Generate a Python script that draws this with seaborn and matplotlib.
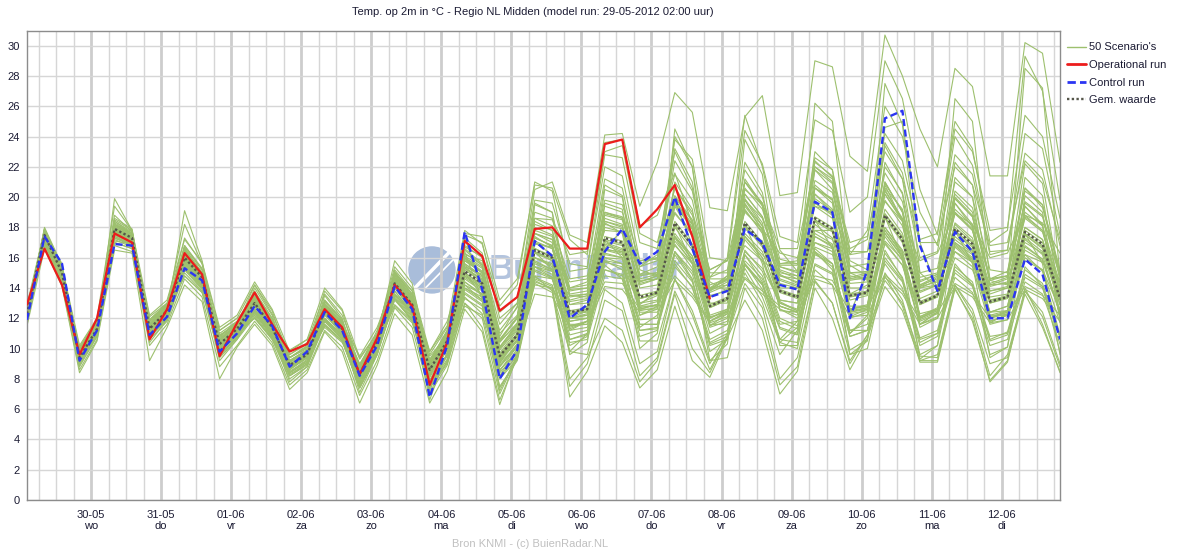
import matplotlib
matplotlib.use("Agg")
import numpy as np
import pandas as pd
import matplotlib.pyplot as plt
import seaborn as sns
from matplotlib.lines import Line2D
from matplotlib.patches import Ellipse

# tijdstappen van 6 uur vanaf 29-05-2012 02:00 (uren na start)
uren = list(range(0, 360, 6))

dagen = ["30-05", "31-05", "01-06", "02-06", "03-06", "04-06", "05-06",
         "06-06", "07-06", "08-06", "09-06", "10-06", "11-06", "12-06"]
weekdagen = ["wo", "do", "vr", "za", "zo", "ma", "di",
             "wo", "do", "vr", "za", "zo", "ma", "di"]
dag_uren = [22 + 24 * k for k in range(len(dagen))]   # 00:00 uur van elke dag

operational = [12.9, 16.6, 14.2, 9.6, 12.0, 17.6, 17.0, 10.6, 12.6, 16.3,
               14.9, 9.5, 11.7, 13.7, 11.6, 9.8, 10.3, 12.6, 11.4, 8.3,
               10.7, 14.2, 12.8, 7.6, 10.4, 17.1, 16.1, 12.5, 13.4, 17.9,
               18.0, 16.6, 16.6, 23.5, 23.8, 18.0, 19.2, 20.8, 17.4, 13.3]

control = [11.9, 17.4, 15.6, 9.2, 11.2, 16.9, 16.8, 10.9, 12.1, 15.3,
           14.5, 9.8, 11.0, 12.8, 11.5, 8.8, 9.8, 12.4, 11.2, 8.2,
           10.2, 14.1, 12.6, 6.8, 10.2, 17.7, 13.9, 8.0, 9.9, 17.1,
           16.1, 12.0, 12.9, 16.4, 17.9, 15.6, 16.4, 20.0, 16.6, 13.4,
           13.8, 17.9, 17.0, 14.2, 13.9, 19.7, 19.0, 12.0, 15.2, 25.2,
           25.7, 16.8, 13.8, 17.7, 16.4, 12.0, 12.0, 15.9, 14.9, 10.6]

gemiddelde = [12.3, 17.5, 15.0, 9.4, 11.3, 17.9, 17.3, 11.3, 12.5, 16.0,
              14.7, 10.3, 11.3, 13.0, 11.4, 8.9, 9.6, 12.5, 11.3, 8.3,
              10.5, 14.3, 12.9, 8.6, 10.5, 15.1, 14.3, 9.5, 10.9, 16.5,
              16.0, 12.4, 12.6, 17.3, 17.0, 13.4, 13.7, 18.3, 16.8, 12.8,
              13.3, 18.3, 16.9, 13.8, 13.4, 18.6, 17.9, 13.5, 13.7, 18.8,
              17.2, 13.0, 13.5, 17.9, 16.9, 13.1, 13.4, 17.7, 16.9, 13.3]

scenarios = [
    [12.6,17.8,15.2,9.8, 11.6,18.4,17.6,11.7, 12.8,16.8,15.2,10.8, 11.8,13.8,12.0,9.4, 10.2,13.2,11.9,8.9, 11.2,15.0,13.6,9.5, 10.8,17.5,17.0,12.0, 13.0,20.5,21.0,17.5, 17.0,24.1,24.2,19.4, 22.3,26.9,25.6,19.3, 19.1,25.3,26.7,20.1, 20.3,29.0,28.6,22.7, 21.7,30.7,28.0,24.5, 22.0,28.5,27.3,21.4, 21.4,30.2,29.5,22.3],
    [12.5,17.9,15.4,9.9, 11.8,18.8,17.7,11.9, 12.9,18.2,15.6,11.2, 12.0,14.2,12.3,9.6, 10.4,13.6,12.2,9.3, 11.0,15.4,14.0,9.8, 11.5,17.8,16.9,12.8, 14.2,21.0,20.4,15.1, 15.3,22.0,21.4,15.8, 15.9,23.8,22.5,16.0, 15.8,24.4,22.2,17.4, 17.0,25.1,24.4,19.0, 20.0,29.0,26.5,20.5, 17.5,25.0,23.2,17.0, 17.8,29.3,27.0,19.8],
    [12.4,17.6,15.1,9.6, 11.5,18.2,17.5,11.6, 12.7,16.6,15.0,10.6, 11.5,13.4,11.8,9.2, 9.9,12.9,11.7,8.6, 10.8,14.9,13.4,9.2, 11.2,16.8,16.0,11.0, 12.2,19.0,18.6,14.0, 14.4,21.2,20.6,15.2, 14.8,24.0,22.0,14.7, 16.0,25.4,22.0,16.5, 15.1,22.4,21.3,16.2, 17.8,26.0,24.0,19.0, 16.8,24.0,22.1,16.4, 16.5,24.2,23.2,17.5],
    [12.2,18.0,15.5,9.5, 11.2,19.9,17.8,11.0, 12.4,19.1,15.8,10.0, 11.0,14.0,12.2,8.6, 9.4,13.5,12.0,8.0, 10.3,15.2,13.8,8.4, 10.2,16.5,15.5,9.0, 11.0,19.5,19.0,12.0, 12.5,20.5,20.0,13.0, 13.5,24.5,22.0,13.0, 13.0,23.8,21.5,14.0, 14.0,26.2,25.0,15.0, 14.5,27.5,24.8,15.0, 14.0,26.5,25.0,14.5, 14.2,28.5,27.2,14.8],
    [12.8,17.2,14.6,9.9, 11.9,17.7,17.2,11.9, 12.9,16.5,14.9,10.8, 11.7,13.5,11.7,9.4, 10.1,12.9,11.7,8.7, 10.9,14.6,13.1,9.0, 11.0,16.7,16.1,12.4, 13.4,18.6,18.5,16.2, 16.4,23.6,23.8,18.1, 18.8,21.6,18.2,14.0, 14.0,20.5,19.5,15.5, 15.5,21.8,20.5,15.8, 15.2,22.0,20.3,15.0, 15.3,21.0,20.0,15.2, 15.0,20.4,19.5,15.2],
    [12.0,17.7,15.2,9.5, 11.4,18.1,17.4,11.5, 12.6,16.3,14.9,10.5, 11.5,13.3,11.6,9.1, 9.8,12.8,11.6,8.5, 10.7,14.7,13.3,8.9, 10.8,15.8,15.0,10.1, 11.5,17.6,17.2,13.5, 13.6,18.8,18.5,14.6, 14.9,20.1,18.5,14.0, 14.5,19.8,18.6,15.1, 14.6,20.6,19.9,15.0, 15.0,21.0,19.0,14.4, 14.9,19.9,18.7,14.5, 14.8,19.6,18.7,14.7],
    [12.4,17.3,14.9,9.2, 11.1,17.6,17.1,11.2, 12.3,15.7,14.5,10.2, 11.2,12.9,11.3,8.8, 9.7,12.7,11.5,8.6, 10.9,14.8,13.3,9.2, 11.1,16.0,15.3,10.6, 12.1,18.0,17.5,13.9, 14.0,18.9,18.6,14.9, 15.0,19.6,17.9,13.9, 14.6,20.2,18.7,15.4, 15.1,21.1,20.3,15.4, 15.6,21.6,19.7,14.7, 15.0,20.2,19.0,14.6, 15.1,20.6,19.3,15.0],
    [12.3,17.6,15.1,9.4, 11.3,17.9,17.4,11.4, 12.5,16.2,14.8,10.4, 11.4,13.1,11.5,9.0, 9.7,12.6,11.4,8.4, 10.6,14.5,13.1,8.8, 10.7,15.5,14.7,9.9, 11.3,17.1,16.6,12.9, 13.0,18.0,17.7,14.0, 14.2,19.0,17.5,13.4, 13.9,19.1,17.7,14.5, 14.1,19.6,18.8,14.3, 14.4,19.8,18.1,13.7, 14.2,18.9,17.8,13.8, 14.1,18.7,17.8,14.1],
    [12.1,17.4,14.9,9.3, 11.2,17.8,17.2,11.2, 12.4,15.9,14.6,10.2, 11.2,12.9,11.3,8.8, 9.5,12.4,11.2,8.2, 10.4,14.2,12.8,8.5, 10.4,15.0,14.2,9.4, 10.8,16.4,15.9,12.3, 12.5,17.2,16.9,13.3, 13.6,18.2,16.7,12.7, 13.2,18.2,16.8,13.7, 13.3,18.5,17.8,13.4, 13.6,18.7,17.1,12.9, 13.4,17.8,16.8,13.0, 13.3,17.6,16.8,13.2],
    [12.0,17.9,15.3,9.0, 11.0,18.5,17.8,10.8, 12.2,16.8,15.3,9.7, 11.0,13.6,11.9,8.4, 9.2,13.1,11.8,7.7, 10.1,15.0,13.5,7.9, 10.0,16.0,15.1,8.5, 10.2,17.6,17.0,11.3, 11.8,18.6,18.2,12.2, 12.8,19.8,18.0,11.5, 12.3,19.8,18.1,12.5, 12.4,20.2,19.2,12.1, 12.6,20.5,18.5,11.6, 12.4,19.6,18.2,11.7, 12.3,19.4,18.2,11.9],
    [12.6,17.1,14.7,9.8, 11.6,17.3,16.8,11.8, 12.8,15.4,14.2,10.9, 11.6,12.5,11.1,9.4, 10.0,12.0,10.9,8.9, 10.9,13.6,12.4,9.3, 11.0,14.2,13.6,10.5, 11.6,15.4,15.1,13.5, 13.4,16.0,15.9,14.5, 14.6,16.8,15.6,14.0, 14.2,16.8,15.8,14.9, 14.3,17.0,16.6,14.6, 14.6,17.1,15.9,14.1, 14.4,16.4,15.7,14.2, 14.3,16.2,15.7,14.4],
    [12.2,17.3,14.8,9.2, 11.1,17.6,17.0,11.0, 12.2,15.6,14.3,9.9, 11.0,12.6,11.0,8.5, 9.2,12.0,10.9,7.9, 10.1,13.8,12.4,8.1, 9.9,14.4,13.6,8.8, 10.1,15.6,15.1,11.5, 11.8,16.3,16.0,12.5, 12.7,17.1,15.7,11.8, 12.3,17.2,15.8,12.8, 12.4,17.4,16.8,12.5, 12.7,17.6,16.1,12.0, 12.5,16.8,15.8,12.1, 12.4,16.5,15.8,12.3],
    [12.0,17.0,14.5,8.9, 10.8,17.2,16.7,10.6, 11.8,15.0,13.8,9.4, 10.6,12.1,10.6,8.0, 8.8,11.6,10.5,7.4, 9.6,13.2,11.9,7.5, 9.3,13.6,12.8,8.0, 9.3,14.6,14.1,10.4, 10.6,14.8,14.6,11.2, 11.3,15.4,14.1,10.3, 10.8,15.5,14.2,11.3, 10.9,15.6,15.0,10.8, 11.2,15.8,14.4,10.4, 11.0,15.0,14.1,10.5, 10.9,14.7,14.0,10.7],
    [11.8,16.8,14.2,8.6, 10.6,16.8,16.4,10.2, 11.6,14.6,13.4,8.8, 10.2,11.8,10.4,7.6, 8.6,11.2,10.1,6.9, 9.2,12.7,11.4,7.0, 8.9,13.0,12.0,7.0, 9.5,14.5,13.9,7.5, 9.0,13.2,12.5,8.2, 9.4,13.8,11.4,8.6, 10.8,14.3,12.7,8.0, 9.4,14.4,13.0,9.2, 10.9,14.5,13.0,9.5, 9.4,14.2,12.3,8.2, 9.6,13.8,12.1,8.8],
    [11.5,16.6,14.1,8.4, 10.5,16.5,16.3,9.2, 11.4,14.2,13.1,8.0, 10.1,11.6,10.2,7.3, 8.4,11.1,9.8,6.4, 8.9,12.3,10.9,6.4, 8.5,12.6,11.1,6.3, 9.6,14.8,13.8,6.8, 8.5,11.5,10.4,7.4, 8.6,12.8,9.2,8.1, 10.7,13.2,11.2,7.0, 8.5,14.0,12.0,8.6, 10.7,14.1,12.5,9.2, 9.2,14.0,11.8,7.9, 9.2,13.6,11.4,8.5],
    [12.9,17.0,14.3,10.0, 11.9,17.5,17.0,11.9, 13.0,15.8,14.5,11.0, 11.8,13.3,11.6,9.6, 10.3,12.9,11.6,9.0, 10.8,14.4,13.0,8.9, 10.6,17.6,17.4,13.2, 14.6,20.8,20.6,17.2, 16.2,23.0,23.4,17.6, 17.0,21.5,19.8,14.4, 13.8,19.2,17.6,13.2, 13.0,18.2,17.3,12.6, 12.9,18.0,16.4,12.1, 12.7,17.0,16.2,12.4, 12.8,17.3,16.4,12.9],
    [12.4,17.5,15.0,9.5, 11.4,18.0,17.3,11.4, 12.5,16.1,14.7,10.4, 11.3,13.1,11.5,8.9, 9.6,12.6,11.4,8.3, 10.5,14.4,13.0,8.6, 10.5,15.3,14.5,9.4, 10.9,16.6,16.0,12.0, 12.2,16.8,16.4,12.6, 12.6,16.9,15.3,11.4, 11.8,16.5,15.1,12.0, 11.5,16.4,15.6,11.2, 11.2,16.0,14.5,10.6, 11.0,15.2,14.2,10.8, 11.0,14.9,14.1,10.9],
    [12.1,17.2,14.7,9.2, 11.0,17.5,17.0,11.0, 12.1,15.5,14.2,9.8, 10.9,12.5,10.9,8.4, 9.1,11.9,10.8,7.8, 9.9,13.6,12.2,7.9, 9.6,13.9,13.1,8.6, 9.8,14.8,14.6,11.2, 11.8,16.5,16.4,12.9, 13.8,19.5,18.2,13.8, 14.8,21.0,19.6,15.6, 15.6,22.6,21.8,16.4, 16.4,23.6,21.6,16.0, 16.4,22.8,21.5,16.2, 16.5,22.9,21.8,16.8],
    [12.5,17.4,14.8,9.6, 11.5,17.7,17.0,11.5, 12.6,15.8,14.4,10.6, 11.5,12.8,11.2,9.1, 9.9,12.3,11.1,8.6, 10.8,14.1,12.7,8.9, 10.9,14.7,13.9,10.1, 11.6,16.0,15.6,13.2, 13.5,16.5,16.2,14.4, 14.8,17.4,15.9,13.9, 14.6,17.4,16.2,15.0, 14.8,17.8,17.2,14.7, 15.0,18.0,16.5,14.2, 14.8,17.2,16.3,14.3, 14.7,17.0,16.3,14.5],
    [12.2,17.1,14.6,9.1, 11.0,17.4,16.9,10.9, 12.0,15.3,14.0,9.6, 10.8,12.3,10.8,8.3, 9.0,11.8,10.7,7.6, 9.8,13.5,12.1,7.8, 9.6,14.0,13.2,8.4, 9.7,15.1,14.6,10.9, 11.2,15.7,15.4,11.9, 12.0,16.4,14.9,11.0, 11.6,16.2,14.8,11.8, 11.3,16.2,15.6,11.2, 11.6,16.3,14.7,10.7, 11.2,15.4,14.4,10.6, 11.1,15.2,14.3,10.8],
    [12.3,17.8,15.3,9.3, 11.2,18.4,17.7,11.1, 12.4,16.7,15.2,10.0, 11.2,13.7,12.0,8.7, 9.5,13.2,11.9,8.1, 10.4,15.1,13.6,8.4, 10.4,16.3,15.5,9.3, 10.9,18.4,17.8,12.3, 12.6,19.6,19.2,13.3, 13.7,21.0,19.2,12.8, 13.3,21.2,19.5,13.8, 13.4,21.8,20.9,13.5, 13.7,22.3,20.2,13.0, 13.5,21.3,20.0,13.1, 13.4,21.3,20.1,13.3],
    [12.3,17.4,14.9,9.4, 11.3,17.8,17.2,11.3, 12.5,15.9,14.6,10.3, 11.3,12.9,11.3,8.9, 9.6,12.4,11.2,8.3, 10.5,14.2,12.8,8.6, 10.4,14.8,14.0,9.2, 10.6,16.0,15.4,11.6, 11.6,15.5,14.6,10.5, 10.5,14.6,12.2,9.0, 11.0,15.3,13.4,10.4, 11.4,16.3,15.4,11.0, 12.2,17.0,15.5,11.6, 12.4,16.7,15.7,12.0, 12.5,16.8,15.9,12.4],
    [12.4,17.6,15.1,9.4, 11.3,18.0,17.4,11.3, 12.5,16.2,14.8,10.2, 11.3,13.2,11.6,8.9, 9.6,12.7,11.5,8.2, 10.5,14.6,13.1,8.5, 10.5,15.6,14.8,9.3, 10.8,17.3,16.8,12.0, 12.2,18.2,17.9,12.8, 13.1,19.6,17.9,12.0, 12.6,19.9,18.3,13.0, 12.6,20.6,19.6,12.6, 12.8,21.0,19.0,12.0, 12.5,20.0,18.8,12.0, 12.4,20.1,19.0,12.2],
    [12.5,16.9,14.5,9.7, 11.4,17.0,16.6,11.5, 12.3,14.8,13.7,10.3, 11.0,12.0,10.7,9.0, 9.5,11.4,10.4,8.4, 10.2,12.8,11.7,8.5, 10.0,12.8,12.2,9.1, 10.1,13.6,13.4,11.5, 11.6,14.1,13.9,12.4, 12.4,14.5,13.4,11.7, 12.1,14.6,13.6,12.6, 12.0,14.6,14.2,12.1, 12.2,14.7,13.6,11.6, 12.0,14.1,13.4,11.7, 11.9,13.9,13.3,11.8],
    [12.0,17.4,15.5,9.3, 11.2,17.1,16.9,11.0, 12.2,15.5,14.5,9.9, 11.0,12.8,11.5,8.8, 9.8,12.4,11.2,8.2, 10.2,14.1,12.6,7.2, 10.2,17.3,14.0,8.2, 10.0,17.0,16.2,12.2, 12.8,16.6,17.8,15.4, 16.2,19.8,16.8,13.5, 13.8,17.9,17.1,14.3, 14.0,19.6,18.9,12.3, 15.0,24.6,25.0,17.0, 13.9,17.8,16.5,12.2, 12.2,16.2,15.1,10.9],
    [12.7,17.4,15.1,10.1, 11.9,17.8,17.4,12.1, 13.0,15.9,14.8,11.2, 12.0,13.0,11.6,9.9, 10.6,12.5,11.6,9.5, 11.4,14.4,13.2,9.8, 11.8,15.4,14.9,11.2, 12.7,16.9,16.7,14.4, 14.6,17.8,17.7,15.6, 16.0,18.9,17.6,15.2, 15.8,19.0,17.9,16.3, 16.0,19.4,19.0,16.2, 16.4,19.7,18.4,15.8, 16.3,18.9,18.2,16.0, 16.3,18.8,18.3,16.3],
    [12.0,17.5,14.9,8.8, 10.8,17.8,17.0,10.4, 11.9,15.9,14.3,9.2, 10.6,12.9,11.0,7.8, 8.8,12.4,10.9,7.1, 9.6,14.2,12.3,7.1, 9.2,15.0,13.5,7.4, 9.3,16.4,15.2,9.6, 10.4,17.2,16.0,10.0, 11.0,18.2,15.6,9.2, 10.3,18.2,15.6,10.2, 10.2,18.5,16.6,9.6, 10.5,18.7,15.9,9.3, 10.2,17.8,15.6,9.4, 10.1,17.6,15.6,9.6],
    [12.3,17.9,15.4,9.4, 11.3,18.6,17.9,11.4, 12.6,17.3,15.6,10.6, 11.5,14.2,12.5,9.1, 9.8,13.8,12.5,8.6, 10.8,15.8,14.3,9.0, 10.9,17.3,16.3,10.4, 11.7,19.6,19.0,13.4, 13.6,20.8,20.1,14.4, 14.8,23.2,21.0,13.8, 14.4,22.3,20.3,14.8, 14.6,23.0,21.8,14.6, 14.9,23.4,21.2,14.1, 14.7,22.3,20.8,14.2, 14.6,22.2,20.9,14.4],
    [12.3,17.0,14.6,9.4, 11.3,17.0,16.6,11.2, 12.3,14.8,13.7,10.2, 11.1,12.0,10.6,8.9, 9.5,11.5,10.5,8.3, 10.4,12.9,11.8,8.6, 10.3,13.3,12.6,9.4, 10.6,14.2,14.0,12.0, 12.0,14.4,14.3,12.6, 12.9,14.8,13.6,11.8, 12.4,14.7,13.8,12.8, 12.4,14.8,14.5,12.4, 12.7,14.9,13.8,11.9, 12.4,14.3,13.6,12.0, 12.3,14.1,13.5,12.2],
    [12.1,17.3,14.8,9.0, 11.0,17.5,17.0,10.9, 12.0,15.4,14.1,9.5, 10.7,12.4,10.8,8.2, 9.0,11.8,10.6,7.4, 9.6,13.3,11.8,7.5, 9.1,13.4,12.3,7.5, 9.2,14.3,13.7,9.8, 9.6,13.9,13.0,9.0, 9.8,14.6,12.5,9.2, 9.4,14.0,12.0,7.6, 8.8,14.5,13.0,9.0, 10.9,14.8,12.8,9.1, 9.1,13.9,12.0,7.8, 9.1,14.0,11.6,8.4],
    [12.6,17.7,15.3,9.7, 11.6,18.3,17.6,11.6, 12.8,16.5,15.0,10.7, 11.6,13.4,11.8,9.2, 9.9,12.9,11.7,8.6, 10.8,14.8,13.3,8.9, 10.9,15.9,15.0,10.1, 11.6,17.8,17.4,13.6, 13.8,19.4,19.0,14.9, 15.4,22.4,20.4,14.7, 15.2,21.8,20.0,15.9, 15.6,22.0,21.0,15.5, 14.8,20.4,18.6,14.0, 14.2,19.0,17.9,13.8, 14.0,18.6,17.7,13.9],
    [12.2,17.6,15.0,9.3, 11.2,18.0,17.3,11.2, 12.4,16.1,14.7,10.2, 11.2,13.0,11.4,8.8, 9.5,12.5,11.3,8.2, 10.3,14.2,12.8,8.3, 10.0,14.4,13.5,8.6, 9.8,15.2,14.7,10.6, 11.0,15.2,14.8,11.2, 11.4,15.6,14.0,10.4, 11.0,15.8,14.6,11.6, 11.8,17.0,16.4,12.0, 12.4,17.8,16.3,12.0, 12.6,17.4,16.4,12.4, 12.8,17.5,16.6,12.9],
    [12.4,17.5,15.0,9.5, 11.4,17.9,17.3,11.4, 12.5,16.0,14.7,10.3, 11.3,13.0,11.4,8.9, 9.6,12.5,11.3,8.3, 10.5,14.3,12.9,8.6, 10.6,15.3,14.6,9.7, 11.2,17.0,16.6,12.9, 13.2,18.4,18.0,14.2, 14.6,19.8,18.2,14.0, 14.8,20.6,19.2,15.6, 15.8,22.3,21.4,16.6, 17.2,24.2,22.4,17.2, 17.6,24.5,23.0,17.8, 18.0,25.4,24.0,18.6],
    [12.0,17.2,14.7,9.1, 10.9,17.4,16.9,10.8, 11.9,15.2,13.9,9.6, 10.7,12.2,10.7,8.2, 8.9,11.6,10.5,7.5, 9.7,13.3,11.9,7.6, 9.5,13.7,12.9,8.2, 9.5,14.7,14.2,10.6, 10.9,15.2,14.9,11.6, 11.6,15.8,14.4,10.6, 11.2,15.6,14.3,11.4, 11.0,15.5,14.9,10.8, 11.2,15.6,14.0,10.2, 10.8,14.7,13.7,10.2, 10.6,14.4,13.6,10.3],
    [12.3,17.5,15.1,9.3, 11.2,17.9,17.3,11.3, 12.4,16.0,14.7,10.2, 11.3,13.0,11.4,8.9, 9.6,12.5,11.4,8.3, 10.5,14.3,12.9,8.6, 10.5,15.2,14.4,9.5, 11.0,16.6,16.1,12.5, 12.7,17.4,17.1,13.5, 13.8,18.4,16.9,12.9, 13.4,18.4,17.0,13.9, 13.5,18.7,18.0,13.6, 13.8,18.9,17.3,13.1, 13.6,18.0,17.0,13.2, 13.5,17.8,17.0,13.4],
    [12.6,17.8,15.3,9.6, 11.6,18.2,17.6,11.6, 12.8,16.4,15.0,10.6, 11.6,13.3,11.7,9.2, 9.9,12.8,11.6,8.6, 10.7,14.6,13.1,8.8, 10.7,15.4,14.5,9.6, 11.0,16.6,16.0,12.3, 12.4,17.0,16.6,13.0, 13.2,17.6,16.1,12.2, 12.6,17.4,16.0,12.8, 12.4,17.4,16.7,12.3, 12.5,17.4,15.8,11.6, 12.1,16.4,15.4,11.6, 11.9,16.0,15.2,11.7],
    [12.1,17.3,14.8,9.2, 11.0,17.6,17.0,10.9, 12.1,15.6,14.3,9.8, 10.9,12.6,11.0,8.4, 9.1,12.0,10.8,7.7, 9.9,13.8,12.3,7.8, 9.6,14.2,13.2,8.0, 9.6,15.4,14.7,10.2, 10.8,15.8,15.2,10.8, 11.2,16.4,14.6,9.8, 10.6,16.2,14.4,10.6, 10.4,16.4,15.2,9.9, 10.6,16.5,14.6,9.6, 10.2,15.6,14.2,9.6, 10.1,15.4,14.1,9.8],
    [12.5,17.6,15.1,9.6, 11.5,18.1,17.5,11.5, 12.7,16.3,14.9,10.5, 11.5,13.2,11.6,9.1, 9.8,12.7,11.5,8.5, 10.7,14.6,13.2,8.9, 10.8,15.6,14.8,10.0, 11.4,17.3,16.8,13.1, 13.3,18.4,18.1,14.3, 14.6,19.5,17.9,13.7, 14.2,19.5,18.1,14.8, 14.4,19.9,19.1,14.5, 14.7,20.2,18.5,14.0, 14.5,19.2,18.1,14.1, 14.4,19.0,18.1,14.3],
    [12.2,17.7,15.2,9.2, 11.1,18.2,17.5,11.0, 12.3,16.6,15.0,9.9, 11.1,13.4,11.7,8.6, 9.4,13.0,11.7,7.9, 10.2,14.9,13.4,8.2, 10.2,16.0,15.0,8.8, 10.3,17.4,16.7,11.4, 11.8,18.3,17.6,12.2, 12.6,19.4,17.4,11.5, 12.0,19.6,17.8,12.6, 12.2,20.2,19.0,12.4, 12.6,20.8,18.4,11.8, 12.3,19.6,18.0,11.8, 12.2,19.4,18.1,12.0],
    [12.4,17.4,14.9,9.5, 11.3,17.8,17.2,11.4, 12.5,15.9,14.6,10.3, 11.3,12.9,11.3,8.9, 9.6,12.4,11.2,8.3, 10.5,14.2,12.8,8.6, 10.4,15.0,14.2,9.4, 10.8,16.4,15.8,12.0, 12.3,16.9,16.5,12.6, 12.9,17.3,15.6,11.6, 11.6,15.6,14.2,10.6, 11.8,17.8,17.8,13.6, 14.2,20.6,19.2,14.2, 14.6,20.4,19.3,14.6, 14.8,20.6,19.5,15.0],
    [11.6,17.6,15.6,9.2, 11.0,17.3,16.9,10.7, 12.0,15.3,14.3,9.6, 10.7,12.6,11.3,8.4, 9.3,12.3,11.1,7.8, 10.0,14.0,12.5,6.6, 9.8,16.4,13.2,7.2, 9.6,15.8,15.2,9.8, 11.0,16.2,16.0,11.4, 12.2,17.4,16.1,11.8, 12.5,17.6,16.4,13.2, 13.0,18.4,17.7,13.2, 13.5,18.9,17.4,13.0, 13.4,18.2,17.1,13.2, 13.4,18.0,17.2,13.4],
    [12.7,17.3,14.8,9.9, 11.8,17.6,17.0,11.8, 12.9,15.8,14.5,10.8, 11.7,13.1,11.5,9.4, 10.1,12.7,11.5,8.8, 10.9,14.5,13.1,9.1, 11.2,16.1,15.4,10.8, 12.8,18.6,18.1,14.6, 14.8,19.8,19.5,15.8, 16.0,20.6,18.8,14.6, 14.6,19.4,17.9,14.6, 14.2,19.4,18.6,14.0, 14.0,19.2,17.6,13.3, 13.8,18.3,17.3,13.4, 13.6,18.0,17.2,13.6],
    [12.2,17.4,14.9,9.2, 11.1,17.7,17.1,11.1, 12.3,15.7,14.4,10.0, 11.1,12.8,11.2,8.7, 9.4,12.2,11.0,8.0, 10.2,14.0,12.6,8.2, 10.1,14.6,13.8,8.9, 10.3,15.7,15.2,11.2, 11.4,16.0,15.6,11.6, 11.6,16.2,14.5,10.2, 10.6,15.6,13.9,10.4, 10.0,15.2,14.2,9.6, 10.0,15.0,13.2,9.2, 9.6,14.2,12.6,9.0, 9.4,13.8,12.4,9.0],
    [12.9,17.8,15.4,10.2, 12.0,19.4,17.8,12.2, 13.2,17.2,15.7,11.4, 12.2,14.4,12.6,9.8, 10.6,14.0,12.6,9.4, 11.0,15.0,13.8,9.6, 11.4,16.6,15.6,10.6, 12.0,18.2,17.8,13.8, 14.0,19.0,18.6,14.8, 15.0,20.0,18.4,14.2, 14.6,20.2,18.7,15.2, 14.8,20.6,19.8,15.0, 15.1,20.9,19.1,14.5, 14.9,19.9,18.7,14.6, 14.8,19.7,18.8,14.8],
    [12.1,17.4,15.0,9.3, 11.2,17.8,17.2,11.1, 12.3,15.8,14.5,10.1, 11.1,12.8,11.2,8.7, 9.4,12.3,11.1,8.1, 10.3,14.1,12.7,8.4, 10.2,14.8,14.0,9.1, 10.5,16.0,15.5,11.8, 12.0,16.6,16.3,12.7, 12.9,17.4,15.9,12.0, 12.5,17.4,16.0,13.0, 12.5,17.6,16.9,12.6, 12.8,17.8,16.2,12.1, 12.6,16.9,15.9,12.2, 12.5,16.7,15.9,12.4],
    [12.5,17.3,14.8,9.7, 11.5,17.6,17.0,11.6, 12.6,15.7,14.4,10.6, 11.5,12.9,11.3,9.2, 9.9,12.5,11.3,8.7, 10.7,14.3,13.0,9.0, 11.0,16.2,15.8,11.6, 13.0,19.8,19.6,15.6, 15.4,22.8,22.6,17.0, 16.6,23.0,20.6,15.0, 15.0,21.0,19.4,15.4, 15.0,20.8,19.8,14.8, 14.6,20.2,18.4,13.8, 14.2,19.0,17.8,13.6, 14.0,18.8,17.8,13.8],
    [12.4,17.3,14.9,9.5, 11.4,17.7,17.1,11.4, 12.5,15.8,14.5,10.3, 11.3,12.9,11.3,8.9, 9.6,12.4,11.2,8.3, 10.5,14.2,12.8,8.6, 10.5,14.9,14.1,9.5, 10.9,16.3,15.8,12.4, 12.6,17.1,16.8,13.3, 13.6,18.0,16.5,12.7, 13.2,18.1,16.7,13.8, 13.4,18.5,17.8,13.5, 13.7,18.6,17.0,12.9, 13.5,17.7,16.7,13.0, 13.4,17.5,16.7,13.2],
    [12.0,17.3,14.9,9.1, 11.0,17.6,17.0,10.8, 12.0,15.4,14.1,9.6, 10.8,12.4,10.8,8.2, 9.0,11.8,10.6,7.4, 9.7,13.4,12.0,7.4, 9.0,13.0,11.4,6.6, 9.4,14.4,14.0,8.0, 9.4,12.0,11.2,7.8, 9.2,13.6,10.0,8.4, 10.8,15.0,13.0,9.6, 11.2,16.6,15.6,11.0, 12.0,17.6,16.0,11.4, 12.0,17.0,16.0,11.8, 12.2,17.2,16.2,12.2],
    [12.6,17.6,15.2,9.8, 11.7,18.2,17.6,11.8, 12.8,16.3,15.0,10.8, 11.7,13.3,11.7,9.4, 10.1,12.8,11.6,8.8, 10.9,14.6,13.2,9.1, 11.1,15.8,15.0,10.5, 12.0,17.6,17.2,14.0, 14.2,19.0,18.7,15.4, 15.8,20.6,19.0,15.2, 15.8,21.0,19.6,16.6, 16.6,22.0,21.2,17.0, 17.4,23.0,21.2,17.0, 17.0,22.0,20.8,16.8, 17.0,22.4,21.2,17.2],
    [12.2,17.1,14.7,9.3, 11.2,17.3,16.9,11.1, 12.3,15.2,14.0,10.1, 11.1,12.4,10.9,8.8, 9.4,11.9,10.8,8.2, 10.3,13.6,12.3,8.4, 10.2,14.0,13.4,9.2, 10.5,15.4,14.9,11.8, 12.0,15.8,15.6,12.8, 12.8,16.4,15.1,12.1, 12.4,16.4,15.3,13.1, 12.5,16.7,16.2,12.8, 12.8,16.9,15.5,12.3, 12.6,16.0,15.2,12.4, 12.5,15.8,15.2,12.6],
]

GROEN = "#9dc06e"
ROOD = "#ec1c1c"
BLAUW = "#2b35f2"
GRIJS = "#55564a"
TEKST = "#1b1b33"

# lange tabel voor seaborn
df_scen = pd.DataFrame(
    [{"uur": u, "temp": t, "lid": n}
     for n, rij in enumerate(scenarios) for u, t in zip(uren, rij)]
)

sns.set_style("white")
plt.rcParams["font.family"] = ["Liberation Sans", "DejaVu Sans"]

fig = plt.figure(figsize=(11.8, 5.5), dpi=100)
ax = fig.add_axes([27 / 1180, 50 / 550, 1033 / 1180, 469.5 / 550])

# watermerk BuienRadar (achter het raster)
ax.add_patch(Ellipse((0.392, 0.49), 46 / 1033, 46 / 469.5, transform=ax.transAxes,
                     color="#a9bdda", zorder=0.2))
ax.plot([0.377, 0.412], [0.455, 0.535], transform=ax.transAxes, color="white", lw=2.5, zorder=0.3)
ax.plot([0.385, 0.414], [0.45, 0.515], transform=ax.transAxes, color="white", lw=1.2, zorder=0.3)
ax.text(0.447, 0.49, "BuienRadar", transform=ax.transAxes, fontsize=25, fontweight="bold",
        color="#b3c4de", va="center", ha="left", zorder=0.2)

sns.lineplot(data=df_scen, x="uur", y="temp", units="lid", estimator=None,
             color=GROEN, linewidth=0.8, ax=ax, legend=False, zorder=2)
sns.lineplot(x=uren, y=gemiddelde, color=GRIJS, linewidth=1.7,
             linestyle=(0, (1, 1)), ax=ax, zorder=3)
sns.lineplot(x=uren[:len(operational)], y=operational, color=ROOD,
             linewidth=1.6, ax=ax, zorder=4)
sns.lineplot(x=uren, y=control, color=BLAUW, linewidth=1.7,
             linestyle=(0, (3, 1.5)), ax=ax, zorder=5)

ax.set_xlim(0, 354)
ax.set_ylim(0, 31)
ax.set_yticks(range(0, 31, 2))
ax.set_xticks(dag_uren)
ax.set_xticklabels([f"{d}\n{w}" for d, w in zip(dagen, weekdagen)])
ax.set_xticks(list(range(4, 355, 6)), minor=True)
ax.set_xlabel("")
ax.set_ylabel("")

ax.set_axisbelow(True)
ax.grid(which="major", axis="x", color="#cdcdcd", linewidth=2)
ax.grid(which="minor", axis="x", color="#d6d6d6", linewidth=1)
ax.grid(which="major", axis="y", color="#d6d6d6", linewidth=1)
ax.tick_params(axis="x", which="major", length=5, width=2, color="#cdcdcd",
               labelsize=8, pad=2, labelcolor=TEKST)
ax.tick_params(axis="x", which="minor", length=0)
ax.tick_params(axis="y", length=0, labelsize=8, pad=5, labelcolor=TEKST)
for s in ax.spines.values():
    s.set_color("#8c8c8c")
    s.set_linewidth(1)

fig.text(533 / 1180, 1 - 12 / 550,
         "Temp. op 2m in °C - Regio NL Midden (model run: 29-05-2012 02:00 uur)",
         ha="center", va="center", fontsize=8, color=TEKST)
fig.text(530 / 1180, 1 - 544 / 550, "Bron KNMI - (c) BuienRadar.NL",
         ha="center", va="center", fontsize=8, color="#c0c0c0")

handles = [
    Line2D([], [], color=GROEN, lw=1),
    Line2D([], [], color=ROOD, lw=2),
    Line2D([], [], color=BLAUW, lw=2, linestyle=(0, (3, 1.5))),
    Line2D([], [], color=GRIJS, lw=1.7, linestyle=(0, (1, 1))),
]
labels = ["50 Scenario's", "Operational run", "Control run", "Gem. waarde"]
fig.legend(handles, labels, loc="upper left", bbox_to_anchor=(1063 / 1180, 1 - 38 / 550),
           frameon=False, fontsize=8, handlelength=1.7, handletextpad=0.25,
           labelspacing=0.68, borderaxespad=0, labelcolor=TEKST)

fig.savefig("out.png", dpi=100)
